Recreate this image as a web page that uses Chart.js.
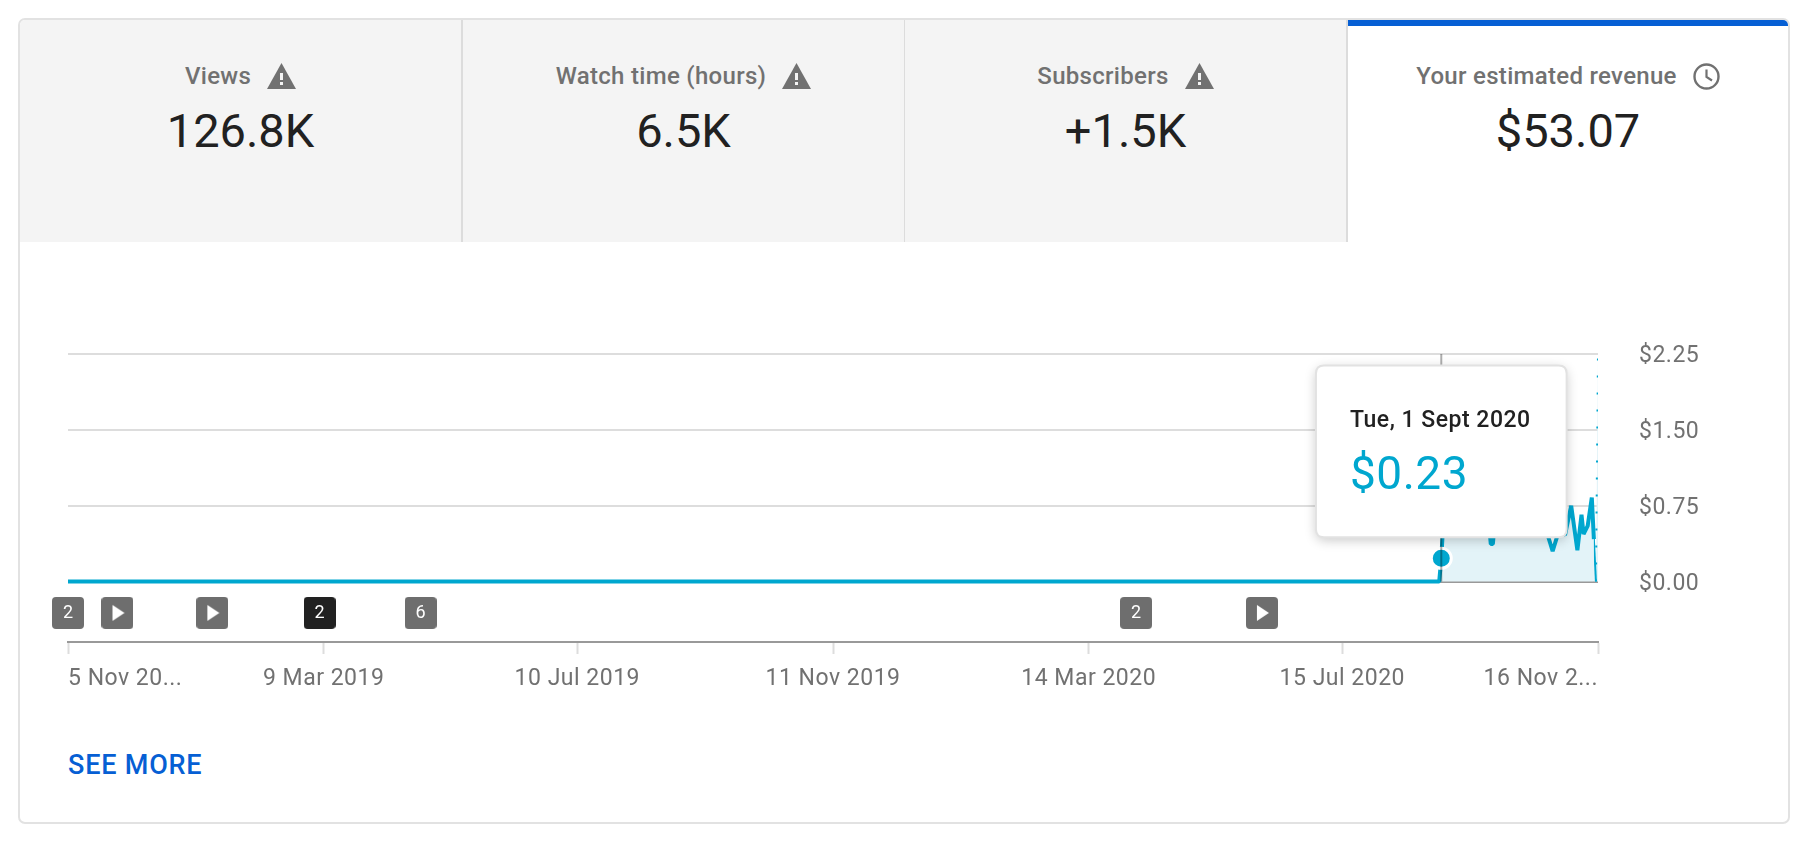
<!DOCTYPE html>
<html><head><meta charset="utf-8">
<script src="https://cdn.jsdelivr.net/npm/chart.js@4"></script>
<style>
html,body{margin:0;padding:0;background:#fff;width:1814px;height:856px;overflow:hidden;font-family:Roboto,sans-serif}
#card{position:absolute;left:18px;top:18px;width:1768px;height:802px;border:2px solid #e2e2e2;border-radius:7px;overflow:hidden;background:#fff}
.tab{position:absolute;top:0;height:222px;width:441px;background:#f4f4f4;border-right:2px solid #dcdcdc}
.tab.on{background:#fff;border-top:6px solid #065fd4;height:216px;border-right:0;width:440px}
.lab{position:absolute;left:0;right:0;top:41px;height:30px;display:flex;justify-content:center;align-items:center;color:#717171;font-size:24px;letter-spacing:.3px;font-weight:500;gap:16px}
.on .lab{top:35px}
.val{position:absolute;left:0;right:0;top:76px;text-align:center;color:#212121;font-size:47px;line-height:70px;font-weight:400}
.on .val{top:70px}
#more{position:absolute;left:68px;top:748px;color:#065fd4;font-size:27px;letter-spacing:.8px;font-weight:500;line-height:34px}
canvas{position:absolute;left:0;top:0}
</style></head><body>
<div id="card">
<div class="tab" style="left:0"><div class="lab"><span>Views</span><svg width="29" height="26" viewBox="0 0 29 26"><path d="M14.5 0L29 26H0Z" fill="#717171"/><rect x="13" y="10" width="3" height="7" fill="#f4f4f4"/><rect x="13" y="19" width="3" height="3" fill="#f4f4f4"/></svg></div><div class="val">126.8K</div></div>
<div class="tab" style="left:443px"><div class="lab"><span>Watch time (hours)</span><svg width="29" height="26" viewBox="0 0 29 26"><path d="M14.5 0L29 26H0Z" fill="#717171"/><rect x="13" y="10" width="3" height="7" fill="#f4f4f4"/><rect x="13" y="19" width="3" height="3" fill="#f4f4f4"/></svg></div><div class="val">6.5K</div></div>
<div class="tab" style="left:885px"><div class="lab"><span>Subscribers</span><svg width="29" height="26" viewBox="0 0 29 26"><path d="M14.5 0L29 26H0Z" fill="#717171"/><rect x="13" y="10" width="3" height="7" fill="#f4f4f4"/><rect x="13" y="19" width="3" height="3" fill="#f4f4f4"/></svg></div><div class="val">+1.5K</div></div>
<div class="tab on" style="left:1328px"><div class="lab"><span>Your estimated revenue</span><svg width="27" height="27" viewBox="0 0 27 27"><circle cx="13.5" cy="13.5" r="12" fill="none" stroke="#717171" stroke-width="2.4"/><path d="M13.5 6.5V14L19 17.5" fill="none" stroke="#717171" stroke-width="2.2"/></svg></div><div class="val">$53.07</div></div>
</div>
<div id="more">SEE MORE</div>
<canvas id="c" width="1814" height="856"></canvas>
<script>
// Day numbers count from 5 Nov 2018 (day 0)
const revenueDays = [0,665,666,667,668,670,672,675,678,681,684,687,689,690,691,692,696,699,702,705,708,711,714,717,720,723,726,729,732,734,735,737,739,740];
const revenueValues = [0,0,0.23,0.60,0.52,0.66,0.48,0.71,0.55,0.62,0.50,0.68,0.60,0.37,0.37,0.60,0.62,0.75,0.50,0.68,0.58,0.80,0.60,0.50,0.30,0.50,0.46,0.75,0.31,0.66,0.47,0.55,0.83,0.42];
const estimatedDays = [740,741,742];
const estimatedValues = [0.42,0,2.25];
const xTickDays = [0,124,247,371,495,618,742];
const xTickLabels = ['5 Nov 20...','9 Mar 2019','10 Jul 2019','11 Nov 2019','14 Mar 2020','15 Jul 2020','16 Nov 2...'];
const yTickValues = [0,0.75,1.5,2.25];
const yTickLabels = ['$0.00','$0.75','$1.50','$2.25'];
const markerDays = [0,24,70,122,171,518,579];
const markerLabels = ['2','','','2','6','2',''];
const markerDark = [false,false,false,true,false,false,false];
const markerRow = -0.31;
const hoverDay = 666;
const hoverTitle = 'Tue, 1 Sept 2020';
const hoverValue = '$0.23';

const BLUE='#00a7cf', GRAY='#717171';
const hoverIndex = revenueDays.indexOf(hoverDay);

function badge(dark,play){
  const c=document.createElement('canvas');c.width=32;c.height=32;
  const g=c.getContext('2d');g.fillStyle=dark?'#212121':'#6e6e6e';
  g.beginPath();g.roundRect(0,0,32,32,4);g.fill();
  if(play){g.fillStyle='#fff';g.beginPath();g.moveTo(11,8);g.lineTo(23,16);g.lineTo(11,24);g.closePath();g.fill();}
  return c;
}
const markerStyles = markerLabels.map((l,i)=>badge(markerDark[i],l===''));

Chart.Tooltip.positioners.hoverPoint = function(items){
  if(!items.length) return false;
  return {x:items[0].element.x,y:items[0].element.y};
};

const overlay = {
  id:'overlay',
  beforeUpdate(chart){ chart.ctx.letterSpacing='0.5px'; },
  beforeDraw(chart){
    chart.ctx.letterSpacing='0.5px';
    chart.scales.y.getLabelItems(chart.chartArea).forEach(it=>{ if(!it.moved){it.textOffset+=2.3;it.moved=true;} });
  },
  afterDatasetsDraw(chart){
    const {ctx,scales:{x,y}}=chart;
    const px=x.getPixelForValue(hoverDay);
    ctx.save();ctx.strokeStyle='rgba(0,0,0,0.32)';ctx.lineWidth=2;
    ctx.beginPath();ctx.moveTo(px,y.getPixelForValue(2.25));ctx.lineTo(px,y.getPixelForValue(0));ctx.stroke();
    ctx.letterSpacing='0px';
    ctx.fillStyle='#fff';ctx.font='18px Roboto';ctx.textAlign='center';ctx.textBaseline='middle';
    markerLabels.forEach((t,i)=>{ if(t) ctx.fillText(t,x.getPixelForValue(markerDays[i]),y.getPixelForValue(markerRow)+1); });
    ctx.restore();
  },
  beforeTooltipDraw(chart,args){
    const t=args.tooltip,ctx=chart.ctx;
    ctx.save();ctx.shadowColor='rgba(0,0,0,0.22)';ctx.shadowBlur=12;ctx.shadowOffsetY=3;ctx.fillStyle='#fff';
    ctx.beginPath();ctx.roundRect(t.x,t.y,t.width,t.height,8);ctx.fill();ctx.restore();
  }
};

const chart = new Chart(document.getElementById('c'),{
  type:'line',
  plugins:[overlay],
  data:{datasets:[
    {data:revenueDays.map((d,i)=>({x:d,y:revenueValues[i]})),
     borderColor:BLUE,borderWidth:4,borderJoinStyle:'bevel',tension:0,
     backgroundColor:'#e3f3f8',fill:{target:{value:0}},
     pointRadius:c=>c.dataIndex===hoverIndex?10:0,
     pointBackgroundColor:BLUE,pointBorderColor:'#fff',pointBorderWidth:3},
    {data:estimatedDays.map((d,i)=>({x:d,y:estimatedValues[i]})),
     borderColor:BLUE,borderWidth:2,tension:0,pointRadius:0,
     backgroundColor:'#e3f3f8',fill:{target:{value:0}},
     clip:{left:4,top:4,bottom:4,right:0},
     segment:{borderDash:c=>c.p0DataIndex>=1?[2,15]:undefined}},
    {type:'scatter',data:markerDays.map(d=>({x:d,y:markerRow})),
     pointStyle:markerStyles,pointRadius:16,clip:false,showLine:false}
  ]},
  options:{
    responsive:false,animation:false,events:[],
    layout:{autoPadding:false,padding:{left:68,top:354,right:116,bottom:154}},
    plugins:{legend:{display:false},
      tooltip:{enabled:true,position:'hoverPoint',xAlign:'center',yAlign:'bottom',
        caretSize:0,caretPadding:21,displayColors:false,cornerRadius:8,
        backgroundColor:'#fff',borderColor:'#e2e2e2',borderWidth:2,
        padding:{top:42,bottom:32,left:34,right:36},
        titleColor:'#212121',titleFont:{family:'Roboto',size:23,weight:'500'},titleMarginBottom:15,
        bodyColor:BLUE,bodyFont:{family:'Roboto',size:46,weight:'400'},
        callbacks:{title:()=>hoverTitle,label:()=>hoverValue}}},
    scales:{
      x:{type:'linear',min:0,max:742,
        afterBuildTicks:s=>{s.ticks=xTickDays.map(v=>({value:v}));},
        afterFit:s=>{s.height=60;},
        border:{color:'#999',width:2},
        grid:{drawOnChartArea:false,drawTicks:true,tickLength:12,tickColor:'#ddd',tickWidth:2},
        ticks:{autoSkip:false,maxRotation:0,align:'inner',padding:11,color:GRAY,font:{family:'Roboto',size:23},
          callback:v=>xTickLabels[xTickDays.indexOf(v)]}},
      y:{type:'linear',position:'right',min:-0.598,max:2.25,
        afterBuildTicks:s=>{s.ticks=yTickValues.map(v=>({value:v}));},
        afterFit:s=>{s.width=100;},
        border:{display:false},
        grid:{drawTicks:false,lineWidth:2,color:c=>c.tick&&c.tick.value===0?'#999':'#ddd'},
        ticks:{padding:41,color:GRAY,font:{family:'Roboto',size:23},
          callback:v=>yTickLabels[yTickValues.indexOf(v)]}}
    }
  }
});
chart.tooltip.setActiveElements([{datasetIndex:0,index:hoverIndex}],{x:0,y:0});
chart.update();
</script>
</body></html>
